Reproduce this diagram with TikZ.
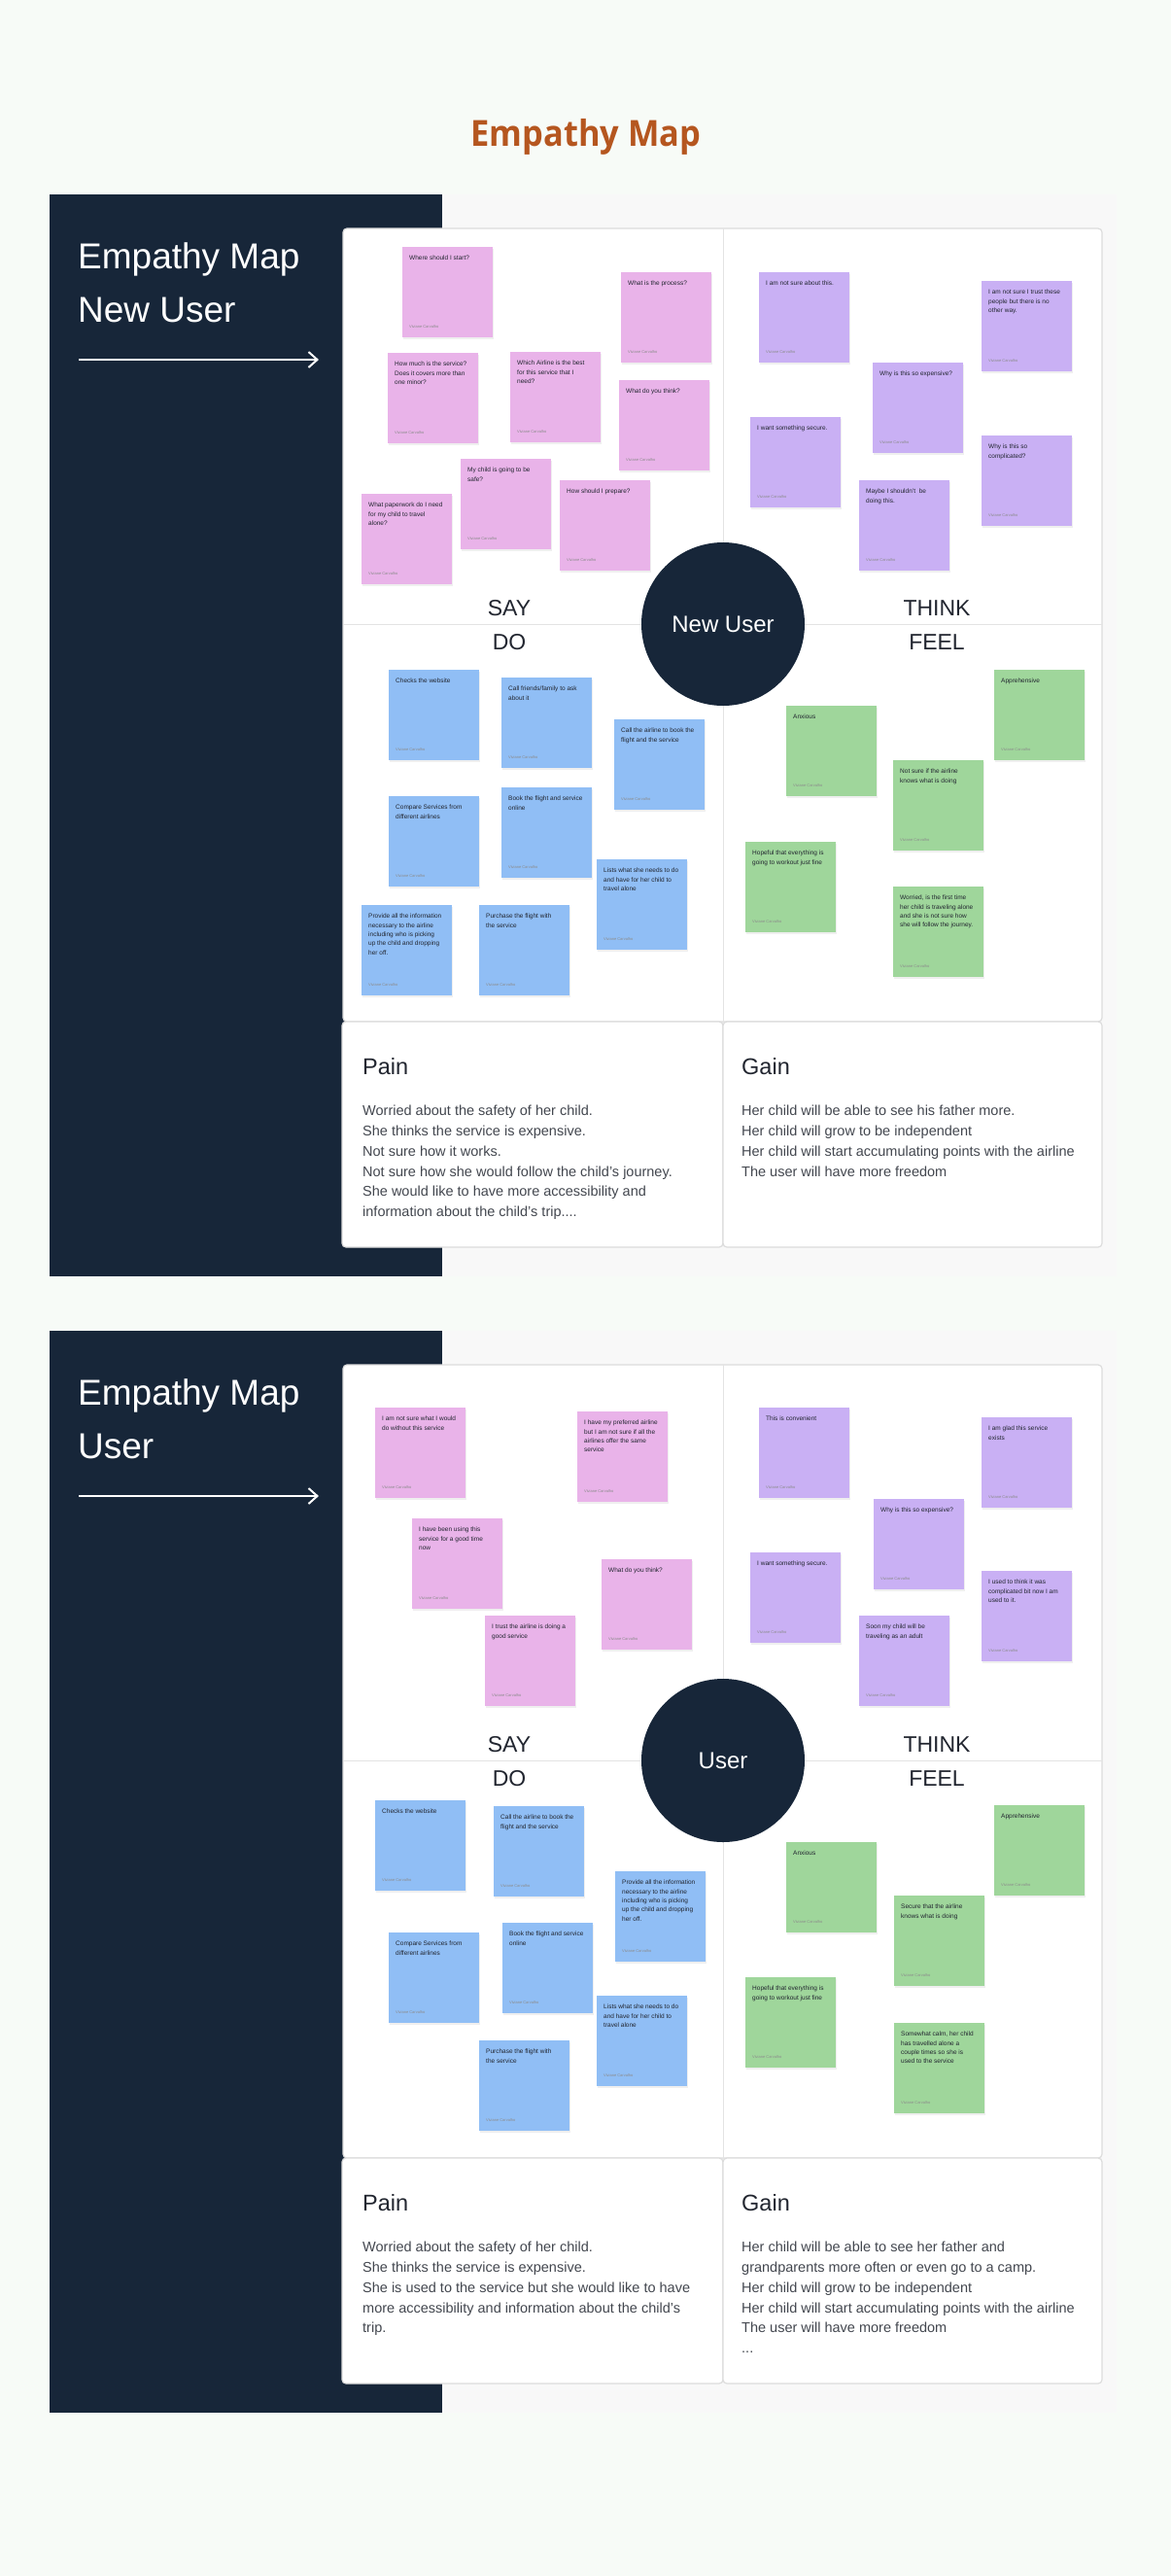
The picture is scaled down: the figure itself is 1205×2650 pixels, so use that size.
\documentclass[tikz,border=0pt]{standalone}
\usepackage{fontspec}
\setmainfont{Liberation Sans}
\newfontfamily\titlefont{Open Sans}[FakeStretch=0.93]
\usetikzlibrary{arrows.meta,shadows}

\definecolor{pagebg}{HTML}{F7FBF7}
\definecolor{panelgray}{HTML}{F8F8F8}
\definecolor{navy}{HTML}{172639}
\definecolor{rust}{HTML}{B5561F}
\definecolor{linegray}{HTML}{DCDCDC}
\definecolor{saycol}{HTML}{E9B3E9}
\definecolor{thinkcol}{HTML}{C9B0F4}
\definecolor{docol}{HTML}{90BEF5}
\definecolor{feelcol}{HTML}{9FD69B}
\definecolor{ink}{HTML}{222630}

% sticky note: name, colour style, x, y (top left), text
\newcommand{\stickynote}[5]{%
  \node[note, #2] (#1) at (#3,#4) {};
  \node[notetext] at ([shift={(7pt,-9pt)}]#1.north west) {#5};
  \node[author] at ([shift={(7pt,11pt)}]#1.south west) {Viviane Carvalho};}

\begin{document}
\begin{tikzpicture}[
    x=1pt, y=-1pt,
    maintitle/.style={font=\titlefont\bfseries\fontsize{37}{40}\selectfont, text=rust, anchor=base, inner sep=0pt},
    paneltitle/.style={font=\fontsize{37}{40}\selectfont, text=white, anchor=base west, inner sep=0pt},
    panelarrow/.style={white, line width=2pt, -{Straight Barb[length=9pt,width=16pt]}},
    board/.style={draw=linegray, line width=1.2pt, fill=white, rounded corners=4pt},
    divider/.style={draw=linegray!80, line width=1pt},
    quad/.style={font=\fontsize{23}{26}\selectfont, text=ink, anchor=base, inner sep=0pt},
    hub/.style={circle, fill=navy, minimum size=168pt, inner sep=0pt, text=white,
                font=\fontsize{24}{26}\selectfont},
    boxhead/.style={font=\fontsize{23.5}{26}\selectfont, text=ink, anchor=base west, inner sep=0pt},
    boxbody/.style={font=\fontsize{14.5}{20.8}\selectfont, text=ink!85, anchor=north west,
                    align=left, inner sep=0pt},
    note/.style={anchor=north west, minimum width=93pt, minimum height=93pt, inner sep=0pt,
                 drop shadow={opacity=0.12, shadow xshift=0.5pt, shadow yshift=-2pt}},
    saynote/.style={fill=saycol},
    thinknote/.style={fill=thinkcol},
    donote/.style={fill=docol},
    feelnote/.style={fill=feelcol},
    notetext/.style={anchor=north west, align=left, inner sep=0pt, text=ink,
                     font=\fontsize{6.5}{9.3}\selectfont},
    author/.style={anchor=west, inner sep=0pt, text=black!45, font=\fontsize{4}{5}\selectfont}
  ]

  % page
  \fill[pagebg] (0,0) rectangle (1205,2650);
  \useasboundingbox (0,0) rectangle (1205,2650);

  \node[maintitle] (title) at (603,150) {Empathy Map};

  % --- the two map frames ---
  \foreach \t/\who in {0/New User, 1169/User}{
    \fill[panelgray] (51,200+\t) rectangle (1149,1313+\t);
    \fill[navy] (51,200+\t) rectangle (455,1313+\t);
    \node[paneltitle] (ttl\t) at (80,276+\t) {Empathy Map};
    \node[paneltitle] (sub\t) at (80,331+\t) {\who};
    \coordinate (arl\t) at (81,370+\t);
    \coordinate (arr\t) at (328,370+\t);
    \draw[panelarrow] (arl\t) -- (arr\t);

    \draw[board] (353,235+\t) rectangle (1134,1051+\t);
    \draw[divider] (744,235+\t) -- (744,1051+\t);
    \draw[divider] (353,642+\t) -- (1134,642+\t);
    \draw[board] (352,1051+\t) rectangle (744,1283+\t);
    \draw[board] (744,1051+\t) rectangle (1134,1283+\t);

    \node[quad] (say\t)   at (524,633+\t) {SAY};
    \node[quad] (think\t) at (964,633+\t) {THINK};
    \node[quad] (do\t)    at (524,668+\t) {DO};
    \node[quad] (feel\t)  at (964,668+\t) {FEEL};
    \node[hub] (hub\t) at (744,642+\t) {\who};

    \node[boxhead] (pain\t) at (373,1105+\t) {Pain};
    \node[boxhead] (gain\t) at (763,1105+\t) {Gain};
  }

  % --- new user: say ---
  \stickynote{nsa}{saynote}{414}{254}{Where should I start?}
  \stickynote{nsb}{saynote}{639}{280}{What is the process?}
  \stickynote{nsc}{saynote}{399}{363}{How much is the service?\\Does it covers more than\\one minor?}
  \stickynote{nsd}{saynote}{525}{362}{Which Airline is the best\\for this service that I\\need?}
  \stickynote{nse}{saynote}{637}{391}{What do you think?}
  \stickynote{nsf}{saynote}{474}{472}{My child is going to be\\safe?}
  \stickynote{nsg}{saynote}{576}{494}{How should I prepare?}
  \stickynote{nsh}{saynote}{372}{508}{What paperwork do I need\\for my child to travel\\alone?}

  % --- new user: think ---
  \stickynote{nta}{thinknote}{781}{280}{I am not sure about this.}
  \stickynote{ntb}{thinknote}{1010}{289}{I am not sure I trust these\\people but there is no\\other way.}
  \stickynote{ntc}{thinknote}{898}{373}{Why is this so expensive?}
  \stickynote{ntd}{thinknote}{772}{429}{I want something secure.}
  \stickynote{nte}{thinknote}{1010}{448}{Why is this so\\complicated?}
  \stickynote{ntf}{thinknote}{884}{494}{Maybe I shouldn't\ \ be\\doing this.}

  % --- new user: do ---
  \stickynote{nda}{donote}{400}{689}{Checks the website}
  \stickynote{ndb}{donote}{516}{697}{Call friends/family to ask\\about it}
  \stickynote{ndc}{donote}{632}{740}{Call the airline to book the\\flight and the service}
  \stickynote{ndd}{donote}{400}{819}{Compare Services from\\different airlines}
  \stickynote{nde}{donote}{516}{810}{Book the flight and service\\online}
  \stickynote{ndf}{donote}{614}{884}{Lists what she needs to do\\and have for her child to\\travel alone}
  \stickynote{ndg}{donote}{372}{931}{Provide all the information\\necessary to the airline\\including who is picking\\up the child and dropping\\her off.}
  \stickynote{ndh}{donote}{493}{931}{Purchase the flight with\\the service}

  % --- new user: feel ---
  \stickynote{nfa}{feelnote}{1023}{689}{Apprehensive}
  \stickynote{nfb}{feelnote}{809}{726}{Anxious}
  \stickynote{nfc}{feelnote}{919}{782}{Not sure if the airline\\knows what is doing}
  \stickynote{nfd}{feelnote}{767}{866}{Hopeful that everything is\\going to workout just fine}
  \stickynote{nfe}{feelnote}{919}{912}{Worried, is the first time\\her child is traveling alone\\and she is not sure how\\she will follow the journey.}

  % --- user: say ---
  \stickynote{usa}{saynote}{386}{1448}{I am not sure what I would\\do without this service}
  \stickynote{usb}{saynote}{594}{1452}{I have my preferred airline\\but I am not sure if all the\\airlines offer the same\\service}
  \stickynote{usc}{saynote}{424}{1562}{I have been using this\\service for a good time\\now}
  \stickynote{usd}{saynote}{619}{1604}{What do you think?}
  \stickynote{use}{saynote}{499}{1662}{I trust the airline is doing a\\good service}

  % --- user: think ---
  \stickynote{uta}{thinknote}{781}{1448}{This is convenient}
  \stickynote{utb}{thinknote}{1010}{1458}{I am glad this service\\exists}
  \stickynote{utc}{thinknote}{899}{1542}{Why is this so expensive?}
  \stickynote{utd}{thinknote}{772}{1597}{I want something secure.}
  \stickynote{ute}{thinknote}{1010}{1616}{I used to think it was\\complicated bit now I am\\used to it.}
  \stickynote{utf}{thinknote}{884}{1662}{Soon my child will be\\traveling as an adult}

  % --- user: do ---
  \stickynote{uda}{donote}{386}{1852}{Checks the website}
  \stickynote{udb}{donote}{508}{1858}{Call the airline to book the\\flight and the service}
  \stickynote{udc}{donote}{633}{1925}{Provide all the information\\necessary to the airline\\including who is picking\\up the child and dropping\\her off.}
  \stickynote{udd}{donote}{400}{1988}{Compare Services from\\different airlines}
  \stickynote{ude}{donote}{517}{1978}{Book the flight and service\\online}
  \stickynote{udf}{donote}{614}{2053}{Lists what she needs to do\\and have for her child to\\travel alone}
  \stickynote{udg}{donote}{493}{2099}{Purchase the flight with\\the service}

  % --- user: feel ---
  \stickynote{ufa}{feelnote}{1023}{1857}{Apprehensive}
  \stickynote{ufb}{feelnote}{809}{1895}{Anxious}
  \stickynote{ufc}{feelnote}{920}{1950}{Secure that the airline\\knows what is doing}
  \stickynote{ufd}{feelnote}{767}{2034}{Hopeful that everything is\\going to workout just fine}
  \stickynote{ufe}{feelnote}{920}{2081}{Somewhat calm, her child\\has travelled alone a\\couple times so she is\\used to the service}

  % --- pain / gain texts ---
  \node[boxbody] (painnew) at (373,1137)
       {Worried about the safety of her child.\\She thinks the service is expensive.\\Not sure how it works.\\
        Not sure how she would follow the child's journey.\\She would like to have more accessibility and\\
        information about the child's trip....};
  \node[boxbody] (gainnew) at (763,1137)
       {Her child will be able to see his father more.\\Her child will grow to be independent\\
        Her child will start accumulating points with the airline\\The user will have more freedom};
  \node[boxbody] (painold) at (373,2306)
       {Worried about the safety of her child.\\She thinks the service is expensive.\\
        She is used to the service but she would like to have\\more accessibility and information about the child's\\trip.};
  \node[boxbody] (gainold) at (763,2306)
       {Her child will be able to see her father and\\grandparents more often or even go to a camp.\\
        Her child will grow to be independent\\Her child will start accumulating points with the airline\\
        The user will have more freedom\\...};

\end{tikzpicture}
\end{document}
